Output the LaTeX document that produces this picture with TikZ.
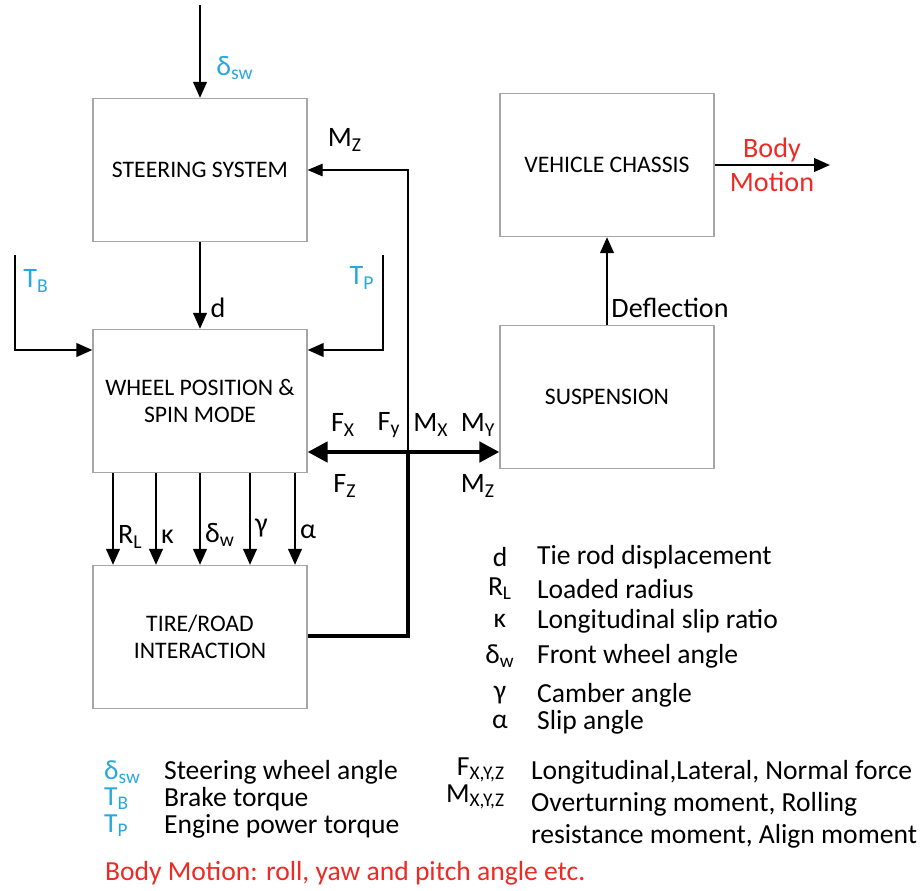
\documentclass[tikz,border=0pt]{standalone}
\usepackage{fontspec}
\setmainfont{Carlito}
\usepackage{tikz}
\usetikzlibrary{
  arrows.meta,
  positioning,
  calc
}
\definecolor{vdBlue}{HTML}{29A8E0}
\definecolor{vdRed}{HTML}{EE2A24}
\definecolor{vdGray}{HTML}{A6A6A6}
\newcommand{\lo}[1]{\textsubscript{#1}}

\tikzset{
  blockbox/.style={draw=vdGray, line width=0.7pt, minimum width=4.28cm,
    minimum height=2.86cm, align=center, font=\fontsize{13.5}{15.5}\selectfont},
  sig/.style={line width=1.4pt, -{Triangle[length=3.2mm, width=2.7mm]}},
  fbline/.style={line width=0.6pt},
  thickline/.style={line width=2.6pt},
  lbl/.style={font=\fontsize{16}{18}\selectfont, inner sep=1pt},
  legend/.style={font=\fontsize{15.7}{18}\selectfont, inner sep=1pt, anchor=west}
}

\begin{document}
\begin{tikzpicture}[x=0.02cm, y=-0.02cm]
  \useasboundingbox (0,0) rectangle (923,890);

  % blocks
  \node[blockbox] (steer) at (200,170) {STEERING SYSTEM};
  \node[blockbox] (wheel) at (200,401) {WHEEL POSITION \&\\SPIN MODE};
  \node[blockbox] (tire) at (200,637) {TIRE/ROAD\\INTERACTION};
  \node[blockbox] (chassis) at (607,165) {VEHICLE CHASSIS};
  \node[blockbox] (susp) at (607,397) {SUSPENSION};

  % inputs
  \coordinate (swin) at (200,5);
  \coordinate (tbin) at (15,255);
  \coordinate (tpin) at (383,255);
  \draw[sig] (swin) -- (steer.north);
  \node[lbl, text=vdBlue] (dsw) at (235,68) {δ\lo{sw}};
  \draw[sig] (tbin) |- (wheel.west |- 0,350);
  \node[lbl, text=vdBlue] (tb) at (36,281) {T\lo{B}};
  \draw[sig] (tpin) |- (wheel.east |- 0,350);
  \node[lbl, text=vdBlue] (tp) at (362,278) {T\lo{P}};

  % steering -> wheel
  \draw[sig] (steer.south) -- (wheel.north);
  \node[lbl] (dd) at (218,308) {d};

  % wheel -> tire
  \foreach \x/\y/\name in {113/537/{R\lo{L}}, 156/537/{κ}, 200/535/{δ\lo{w}},
    250/528/{γ}, 295/532/{α}}{
    \draw[sig] (wheel.south -| \x,0) -- (tire.north -| \x,0);
    \node[lbl, anchor=west] at (\x+3,\y) {\name};
  }

  % forces and moments
  \coordinate (jn) at (408,452);
  \draw[thickline] (tire.east |- 0,636) -| (jn);
  \draw[fbline, -{Triangle[length=3mm, width=2.5mm]}] (jn) |- (steer.east);
  \node[lbl] (mzt) at (345,140) {M\lo{Z}};
  \draw[thickline, {Triangle[length=4mm, width=4mm]}-{Triangle[length=4mm, width=4mm]}]
    (wheel.east |- jn) -- (susp.west |- jn);
  \node[lbl] (fx) at (343,425) {F\lo{X}};
  \node[lbl] (fy) at (389,425) {F\lo{y}};
  \node[lbl] (mx) at (431,425) {M\lo{X}};
  \node[lbl] (my) at (478,425) {M\lo{Y}};
  \node[lbl] (fz) at (345,486) {F\lo{Z}};
  \node[lbl] (mz) at (478,486) {M\lo{Z}};

  % suspension -> chassis -> body motion
  \draw[sig] (susp.north) -- (chassis.south);
  \node[lbl] (defl) at (670,308) {Deflection};
  \coordinate (bodyout) at (830,165);
  \draw[sig] (chassis.east) -- (bodyout);
  \node[lbl, text=vdRed] (body) at (772,150) {Body};
  \node[lbl, text=vdRed] (motion) at (772,182) {Motion};

  % legend
  \foreach \y/\sym/\txt in {557/d/{Tie rod displacement}, 589/{R\lo{L}}/{Loaded radius},
    621/κ/{Longitudinal slip ratio}, 656/{δ\lo{w}}/{Front wheel angle},
    695/γ/{Camber angle}, 722/α/{Slip angle}}{
    \node[legend, anchor=center] at (500,\y) {\sym};
    \node[legend] at (535,\y) {\txt};
  }
  \foreach \y/\sym/\txt in {772/{δ\lo{sw}}/{Steering wheel angle},
    799/{T\lo{B}}/{Brake torque}, 826/{T\lo{P}}/{Engine power torque}}{
    \node[legend, text=vdBlue] at (102,\y) {\sym};
    \node[legend] at (162,\y) {\txt};
  }
  \node[legend, anchor=east] (fxyz) at (507,770) {F\lo{X,Y,Z}};
  \node[legend, anchor=east] (mxyz) at (507,797) {M\lo{X,Y,Z}};
  \node[legend] at (529,772) {Longitudinal,Lateral, Normal force};
  \node[legend] at (529,804) {Overturning moment, Rolling};
  \node[legend] at (529,836) {resistance moment, Align moment};
  \node[legend, text=vdRed] at (103,873) {Body Motion: roll, yaw and pitch angle etc.};
\end{tikzpicture}
\end{document}
